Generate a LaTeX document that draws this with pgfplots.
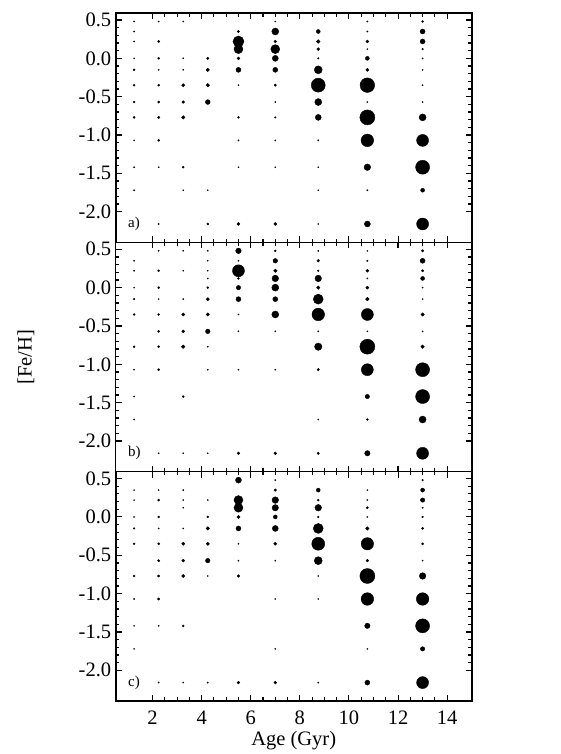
\documentclass[border=0pt]{standalone}
\usepackage{fontspec}
\setmainfont{Liberation Serif}
\usepackage{pgfplots}
\usepackage{pgfplotstable}
\pgfplotsset{compat=1.18}

% ---------------- panel a ----------------
\pgfplotstableread{
x y r
1.25 -0.15 1.0
1.25 -0.35 1.0
1.25 -0.57 1.0
1.25 -0.77 1.0
2.25 0.22 1.1
2.25 0.0 1.0
2.25 -0.35 1.0
2.25 -0.57 1.1
2.25 -0.77 1.2
2.25 -1.07 1.0
3.25 -0.35 1.6
3.25 -0.57 1.4
3.25 -0.77 1.8
3.25 -1.42 1.0
4.25 0.0 1.2
4.25 -0.15 1.7
4.25 -0.35 1.8
4.25 -0.57 2.4
4.25 -2.16 1.0
5.5 0.35 1.2
5.5 0.22 5.5
5.5 0.12 4.5
5.5 0.0 1.5
5.5 -0.15 2.5
5.5 -0.77 1.0
5.5 -2.16 1.5
7.0 0.35 3.5
7.0 0.22 1.3
7.0 0.12 4.5
7.0 0.0 3.0
7.0 -0.15 2.5
7.0 -0.35 1.2
7.0 -0.77 0.8
7.0 -2.16 1.5
8.75 0.35 2.0
8.75 0.22 1.8
8.75 0.12 1.5
8.75 0.0 0.8
8.75 -0.15 4.0
8.75 -0.35 7.0
8.75 -0.57 3.5
8.75 -0.77 3.0
10.75 0.22 1.5
10.75 0.0 2.0
10.75 -0.15 1.6
10.75 -0.35 7.3
10.75 -0.77 7.5
10.75 -1.07 6.3
10.75 -1.42 3.3
10.75 -2.16 3.0
13.0 0.48 1.0
13.0 0.35 2.5
13.0 0.22 2.5
13.0 0.12 0.8
13.0 -0.77 3.5
13.0 -1.07 6.0
13.0 -1.42 7.0
13.0 -1.72 2.0
13.0 -2.16 6.0
}\blackA
\pgfplotstableread{
x y
1.25 0.48
1.25 0.35
1.25 0.22
1.25 0.0
1.25 -1.07
1.25 -1.42
1.25 -1.72
2.25 0.48
2.25 -0.15
2.25 -1.42
2.25 -2.16
3.25 0.48
3.25 0.0
3.25 -0.15
3.25 -1.72
4.25 -1.72
5.5 -0.35
5.5 -1.07
5.5 -1.42
7.0 0.48
7.0 -0.57
7.0 -1.07
7.0 -1.42
8.75 -1.07
8.75 -1.42
8.75 -1.72
8.75 -2.16
10.75 0.48
10.75 0.35
10.75 0.12
10.75 -0.57
10.75 -1.72
13.0 0.0
13.0 -0.15
13.0 -0.35
13.0 -0.57
}\faintA

% ---------------- panel b ----------------
\pgfplotstableread{
x y r
1.25 -0.15 0.8
1.25 -0.35 1.0
1.25 -0.77 1.0
2.25 0.22 1.0
2.25 0.0 1.0
2.25 -0.35 1.0
2.25 -0.57 1.1
2.25 -0.77 1.1
2.25 -1.07 1.1
3.25 -0.35 1.6
3.25 -0.57 1.5
3.25 -0.77 1.8
3.25 -1.42 1.0
4.25 0.0 1.0
4.25 -0.15 1.6
4.25 -0.35 1.7
4.25 -0.57 2.3
5.5 0.48 2.8
5.5 0.22 6.0
5.5 0.12 1.0
5.5 0.0 2.2
5.5 -0.15 2.5
5.5 -2.16 1.3
7.0 0.48 1.0
7.0 0.35 2.3
7.0 0.22 1.7
7.0 0.12 3.3
7.0 0.0 3.5
7.0 -0.15 2.5
7.0 -0.35 3.5
7.0 -2.16 1.4
8.75 0.35 1.3
8.75 0.22 0.8
8.75 0.12 3.3
8.75 0.0 1.7
8.75 -0.15 5.0
8.75 -0.35 6.3
8.75 -0.77 3.7
8.75 -1.07 1.2
8.75 -2.16 1.2
10.75 0.35 0.8
10.75 0.22 1.5
10.75 0.0 1.5
10.75 -0.15 1.8
10.75 -0.35 6.0
10.75 -0.77 7.5
10.75 -1.07 6.0
10.75 -1.42 2.2
10.75 -1.72 1.0
10.75 -2.16 2.7
13.0 0.48 1.2
13.0 0.35 2.5
13.0 0.22 1.2
13.0 0.12 2.0
13.0 -0.35 1.7
13.0 -0.77 1.8
13.0 -1.07 7.0
13.0 -1.42 7.0
13.0 -1.72 3.5
13.0 -2.16 6.0
}\blackB
\pgfplotstableread{
x y
1.25 0.35
1.25 0.22
1.25 0.0
1.25 -1.07
1.25 -1.42
1.25 -1.72
2.25 0.48
2.25 -0.15
2.25 -2.16
3.25 0.48
3.25 0.22
3.25 -0.15
3.25 -2.16
4.25 0.48
4.25 0.35
4.25 0.22
4.25 0.12
4.25 -0.77
4.25 -1.07
4.25 -2.16
5.5 0.35
5.5 -0.35
5.5 -0.57
5.5 -1.07
7.0 -0.57
7.0 -1.07
8.75 0.48
8.75 -0.57
8.75 -1.72
10.75 0.48
10.75 0.12
10.75 -0.57
13.0 0.0
13.0 -0.15
13.0 -0.57
}\faintB

% ---------------- panel c ----------------
\pgfplotstableread{
x y r
1.25 -0.15 0.8
1.25 -0.35 0.9
1.25 -0.77 1.0
2.25 0.22 1.1
2.25 0.0 1.0
2.25 -0.35 1.1
2.25 -0.57 1.2
2.25 -0.77 1.2
2.25 -1.07 1.2
3.25 -0.35 1.6
3.25 -0.57 1.5
3.25 -0.77 1.6
3.25 -1.42 1.0
4.25 0.0 1.0
4.25 -0.15 1.7
4.25 -0.35 1.7
4.25 -0.57 2.3
5.5 0.48 3.0
5.5 0.22 4.5
5.5 0.12 4.5
5.5 0.0 1.6
5.5 -0.15 2.5
5.5 -0.77 1.4
5.5 -2.16 1.4
7.0 0.35 1.3
7.0 0.22 3.3
7.0 0.12 3.2
7.0 0.0 2.0
7.0 -0.15 3.0
7.0 -0.35 1.6
7.0 -2.16 1.4
8.75 0.35 2.0
8.75 0.22 1.0
8.75 0.12 3.3
8.75 0.0 0.8
8.75 -0.15 5.0
8.75 -0.35 6.5
8.75 -0.57 4.0
10.75 0.12 1.1
10.75 -0.15 1.8
10.75 -0.35 6.2
10.75 -0.57 1.3
10.75 -0.77 7.5
10.75 -1.07 6.3
10.75 -1.42 2.7
10.75 -2.16 2.5
13.0 0.48 0.8
13.0 0.35 2.0
13.0 0.22 2.2
13.0 0.12 0.7
13.0 0.0 0.9
13.0 -0.15 1.1
13.0 -0.35 1.1
13.0 -0.77 3.3
13.0 -1.07 6.3
13.0 -1.42 7.0
13.0 -1.72 2.2
13.0 -2.16 6.0
}\blackC
\pgfplotstableread{
x y
1.25 0.35
1.25 0.22
1.25 0.0
1.25 -1.07
1.25 -1.42
1.25 -1.72
2.25 0.35
2.25 -0.15
2.25 -1.42
2.25 -2.16
3.25 0.35
3.25 0.22
3.25 0.12
3.25 -0.15
3.25 -2.16
4.25 0.22
4.25 -0.77
4.25 -2.16
5.5 -0.35
5.5 -0.57
7.0 0.48
7.0 -0.57
7.0 -1.07
7.0 -1.72
8.75 -0.77
8.75 -1.07
8.75 -2.16
10.75 0.35
10.75 0.22
10.75 0.0
10.75 -1.72
13.0 -0.57
}\faintC

\tikzset{plab/.style={anchor=west, inner sep=0pt, font=\fontsize{15}{18}\selectfont}}

\pgfplotsset{
  panel/.style={
    width=356pt, height=229.3pt, scale only axis,
    xmin=0.5, xmax=15, ymin=-2.4, ymax=0.59,
    xtick={2,4,6,8,10,12,14}, minor x tick num=3,
    ytick={-2,-1.5,-1,-0.5,0,0.5}, minor y tick num=4,
    tick align=inside,
    major tick length=6pt, minor tick length=3.5pt,
    axis line style={line width=1.6pt},
    every tick/.style={black, line width=1.1pt},
    tick label style={font=\fontsize{20.5}{24}\selectfont},
    label style={font=\fontsize{20.5}{24}\selectfont},
    /pgf/number format/assume math mode=true,
    yticklabel style={/pgf/number format/fixed, /pgf/number format/fixed zerofill, /pgf/number format/precision=1, xshift=-1pt},
    xticklabel style={/pgf/number format/fixed, yshift=-6pt},
    clip=false,
  },
  blackdots/.style={scatter, only marks, mark=*,
    scatter/use mapped color={draw=none, fill=black},
    visualization depends on={\thisrow{r}\as\rad},
    scatter/@pre marker code/.append style={/tikz/mark size=\rad pt}},
  faintdots/.style={only marks, mark=*, mark size=0.65pt, mark options={draw=none, fill=black!22}},
}

\begin{document}
\begin{tikzpicture}
\useasboundingbox (0,0) rectangle (560pt,754pt);

\begin{axis}[panel, at={(115.7pt,511.6pt)}, anchor=south west, xticklabels={}]
  \addplot[faintdots] table[x=x,y=y] {\faintA};
  \addplot[blackdots] table[x=x,y=y] {\blackA};
  \node[plab] at (axis cs:1.0,-2.16) {a)};
\end{axis}

\begin{axis}[panel, at={(115.7pt,282.3pt)}, anchor=south west, xticklabels={},
  ylabel={[Fe/H]}, ylabel style={at={(axis description cs:-0.252,0.5)}, anchor=center}]
  \addplot[faintdots] table[x=x,y=y] {\faintB};
  \addplot[blackdots] table[x=x,y=y] {\blackB};
  \node[plab] at (axis cs:1.0,-2.16) {b)};
\end{axis}

\begin{axis}[panel, at={(115.7pt,53pt)}, anchor=south west, xlabel={Age (Gyr)},
  xlabel style={yshift=0pt}]
  \addplot[faintdots] table[x=x,y=y] {\faintC};
  \addplot[blackdots] table[x=x,y=y] {\blackC};
  \node[plab] at (axis cs:1.0,-2.16) {c)};
\end{axis}
\end{tikzpicture}
\end{document}
